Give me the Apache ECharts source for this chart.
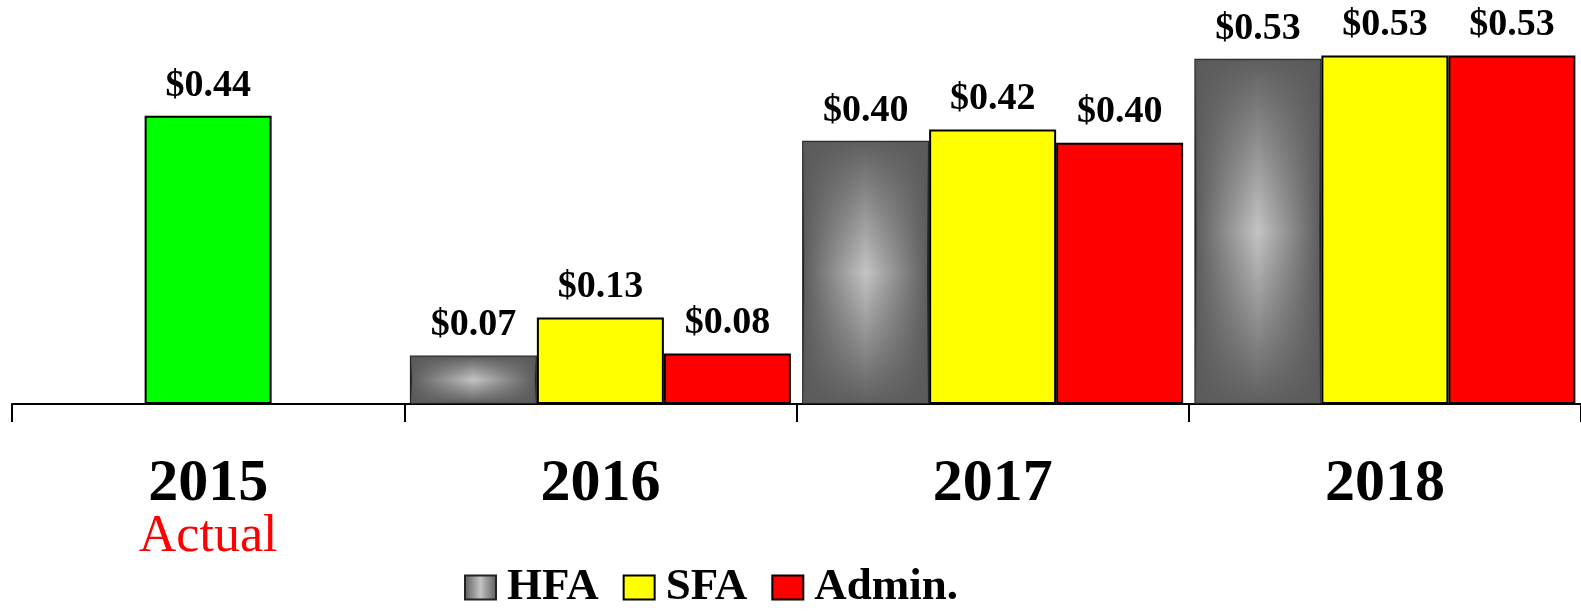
<!DOCTYPE html>
<html>
<head>
<meta charset="utf-8">
<script src="https://cdn.jsdelivr.net/npm/echarts@6/dist/echarts.min.js"></script>
<style>
  html, body { margin: 0; padding: 0; background: #fff; }
  #chart { width: 1581px; height: 613px; }
</style>
</head>
<body>
<div id="chart"></div>
<script>
// values
var categories = ["2015", "2016", "2017", "2018"];
var actualValues = [0.44, null, null, null];
var hfaValues = [null, 0.074, 0.402, 0.527];
var sfaValues = [null, 0.132, 0.419, 0.532];
var adminValues = [null, 0.077, 0.399, 0.532];
var seriesNames = ["HFA", "SFA", "Admin."];
var actualNote = "Actual";

var serif = "'Liberation Serif', 'Times New Roman', serif";
var barW = 127;

var chart = echarts.init(document.getElementById("chart"));

function dollar(p) {
  return "$" + p.value.toFixed(2);
}

var barLabel = {
  show: true,
  position: "top",
  distance: 11,
  formatter: dollar,
  fontFamily: serif,
  fontWeight: "bold",
  fontSize: 38,
  color: "#000"
};

var grayFill = new echarts.graphic.LinearGradient(0, 0, 1, 0, [
  { offset: 0, color: "#5a5a5a" },
  { offset: 0.5, color: "#c4c4c4" },
  { offset: 1, color: "#5a5a5a" }
]);

// darkens the top and bottom of the HFA bars so the fill reads as a box gradient
function hfaShade(params, api) {
  var base = api.coord([api.value(0), 0]);
  var top = api.coord([api.value(0), api.value(1)]);
  var x = base[0] - barW * 1.5 + 1;
  var h = base[1] - top[1] - 2;
  return {
    type: "rect",
    shape: { x: x, y: top[1] + 1, width: barW - 2, height: h },
    style: {
      fill: new echarts.graphic.LinearGradient(0, 0, 0, 1, [
        { offset: 0, color: "rgba(90,90,90,0.95)" },
        { offset: 0.5, color: "rgba(90,90,90,0)" },
        { offset: 1, color: "rgba(90,90,90,0.95)" }
      ])
    },
    silent: true
  };
}

chart.setOption({
  backgroundColor: "#fff",
  animation: false,
  grid: {
    left: 12,
    width: 1580,
    top: 11,
    bottom: 209
  },
  legend: {
    data: seriesNames,
    left: 459,
    top: 560,
    icon: "rect",
    itemWidth: 31,
    itemHeight: 24,
    itemGap: 24,
    textStyle: {
      fontFamily: serif,
      fontWeight: "bold",
      fontSize: 45,
      color: "#000",
      padding: [0, 0, 0, 6]
    }
  },
  xAxis: [
    {
      type: "category",
      data: categories,
      axisLine: { show: true, lineStyle: { color: "#000", width: 2 } },
      axisTick: { show: true, interval: 0, length: 18, lineStyle: { color: "#000", width: 2 } },
      axisLabel: {
        margin: 51,
        formatter: function(v, i) {
          return i === 0 ? "{y|" + v + "}\n{a|" + actualNote + "}" : "{y|" + v + "}";
        },
        rich: {
          y: { fontFamily: serif, fontWeight: "bold", fontSize: 60, lineHeight: 58, color: "#000" },
          a: { fontFamily: serif, fontSize: 52, lineHeight: 48, color: "#ff0000" }
        }
      }
    },
    { type: "category", data: categories, show: false }
  ],
  yAxis: { type: "value", min: 0, max: 0.6, show: false },
  series: [
    {
      name: "Actual",
      type: "bar",
      xAxisIndex: 1,
      barWidth: barW,
      data: actualValues,
      itemStyle: { color: "#00ff00", borderColor: "#000", borderWidth: 2 },
      label: barLabel
    },
    {
      name: "HFA",
      type: "bar",
      barWidth: barW,
      barGap: 0,
      data: hfaValues,
      itemStyle: { color: grayFill, borderColor: "#222", borderWidth: 2 },
      label: barLabel
    },
    {
      name: "SFA",
      type: "bar",
      barWidth: barW,
      barGap: 0,
      data: sfaValues,
      itemStyle: { color: "#ffff00", borderColor: "#000", borderWidth: 2 },
      label: barLabel
    },
    {
      name: "Admin.",
      type: "bar",
      barWidth: barW,
      barGap: 0,
      data: adminValues,
      itemStyle: { color: "#ff0000", borderColor: "#000", borderWidth: 2 },
      label: barLabel
    },
    {
      name: "HFA shade",
      type: "custom",
      renderItem: hfaShade,
      encode: { x: 0, y: 1 },
      z: 3,
      data: hfaValues.map(function(v, i) { return [i, v]; }).filter(function(d) { return d[1] != null; })
    }
  ]
});
</script>
</body>
</html>
